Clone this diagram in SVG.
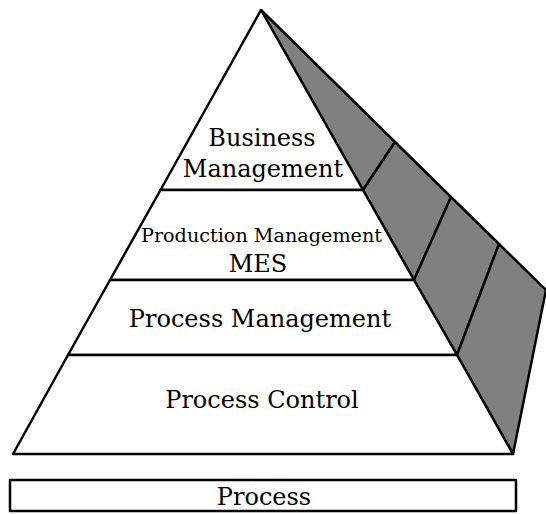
<svg xmlns="http://www.w3.org/2000/svg" width="546" height="514" viewBox="0 0 546 514">
<style>
.f{fill:#fff;stroke:#000;stroke-width:2.5;stroke-linejoin:round}
.s{fill:#808080;stroke:#000;stroke-width:2.5;stroke-linejoin:round}
.t{font-family:"DejaVu Serif","Liberation Serif",serif;font-size:24px;fill:#000;text-anchor:middle}
.sm{font-size:19.2px}
</style>
<rect width="546" height="514" fill="#fff"/>
<g id="side">
<polygon class="s" points="261,10 395,142 363,190"/>
<polygon class="s" points="395,142 451,197 414,280 363,190"/>
<polygon class="s" points="451,197 499,244 457,355 414,280"/>
<polygon class="s" points="499,244 546,290 513,454 457,355"/>
</g>
<g id="business">
<polygon class="f" points="261,10 363,190 160.5,190"/>
<text class="t" x="262" y="146">Business</text>
<text class="t" x="263" y="177">Management</text>
</g>
<g id="production">
<polygon class="f" points="160.5,190 363,190 414,280 110,280"/>
<text class="t sm" x="261.5" y="242">Production Management</text>
<text class="t" x="258" y="272">MES</text>
</g>
<g id="processmgmt">
<polygon class="f" points="110,280 414,280 457,355 68,355"/>
<text class="t" x="260" y="327">Process Management</text>
</g>
<g id="processcontrol">
<polygon class="f" points="68,355 457,355 513,454 13,454"/>
<text class="t" x="262" y="408">Process Control</text>
</g>
<g id="process">
<rect class="f" x="10" y="480" width="506" height="31"/>
<text class="t" x="264" y="505">Process</text>
</g>
</svg>
